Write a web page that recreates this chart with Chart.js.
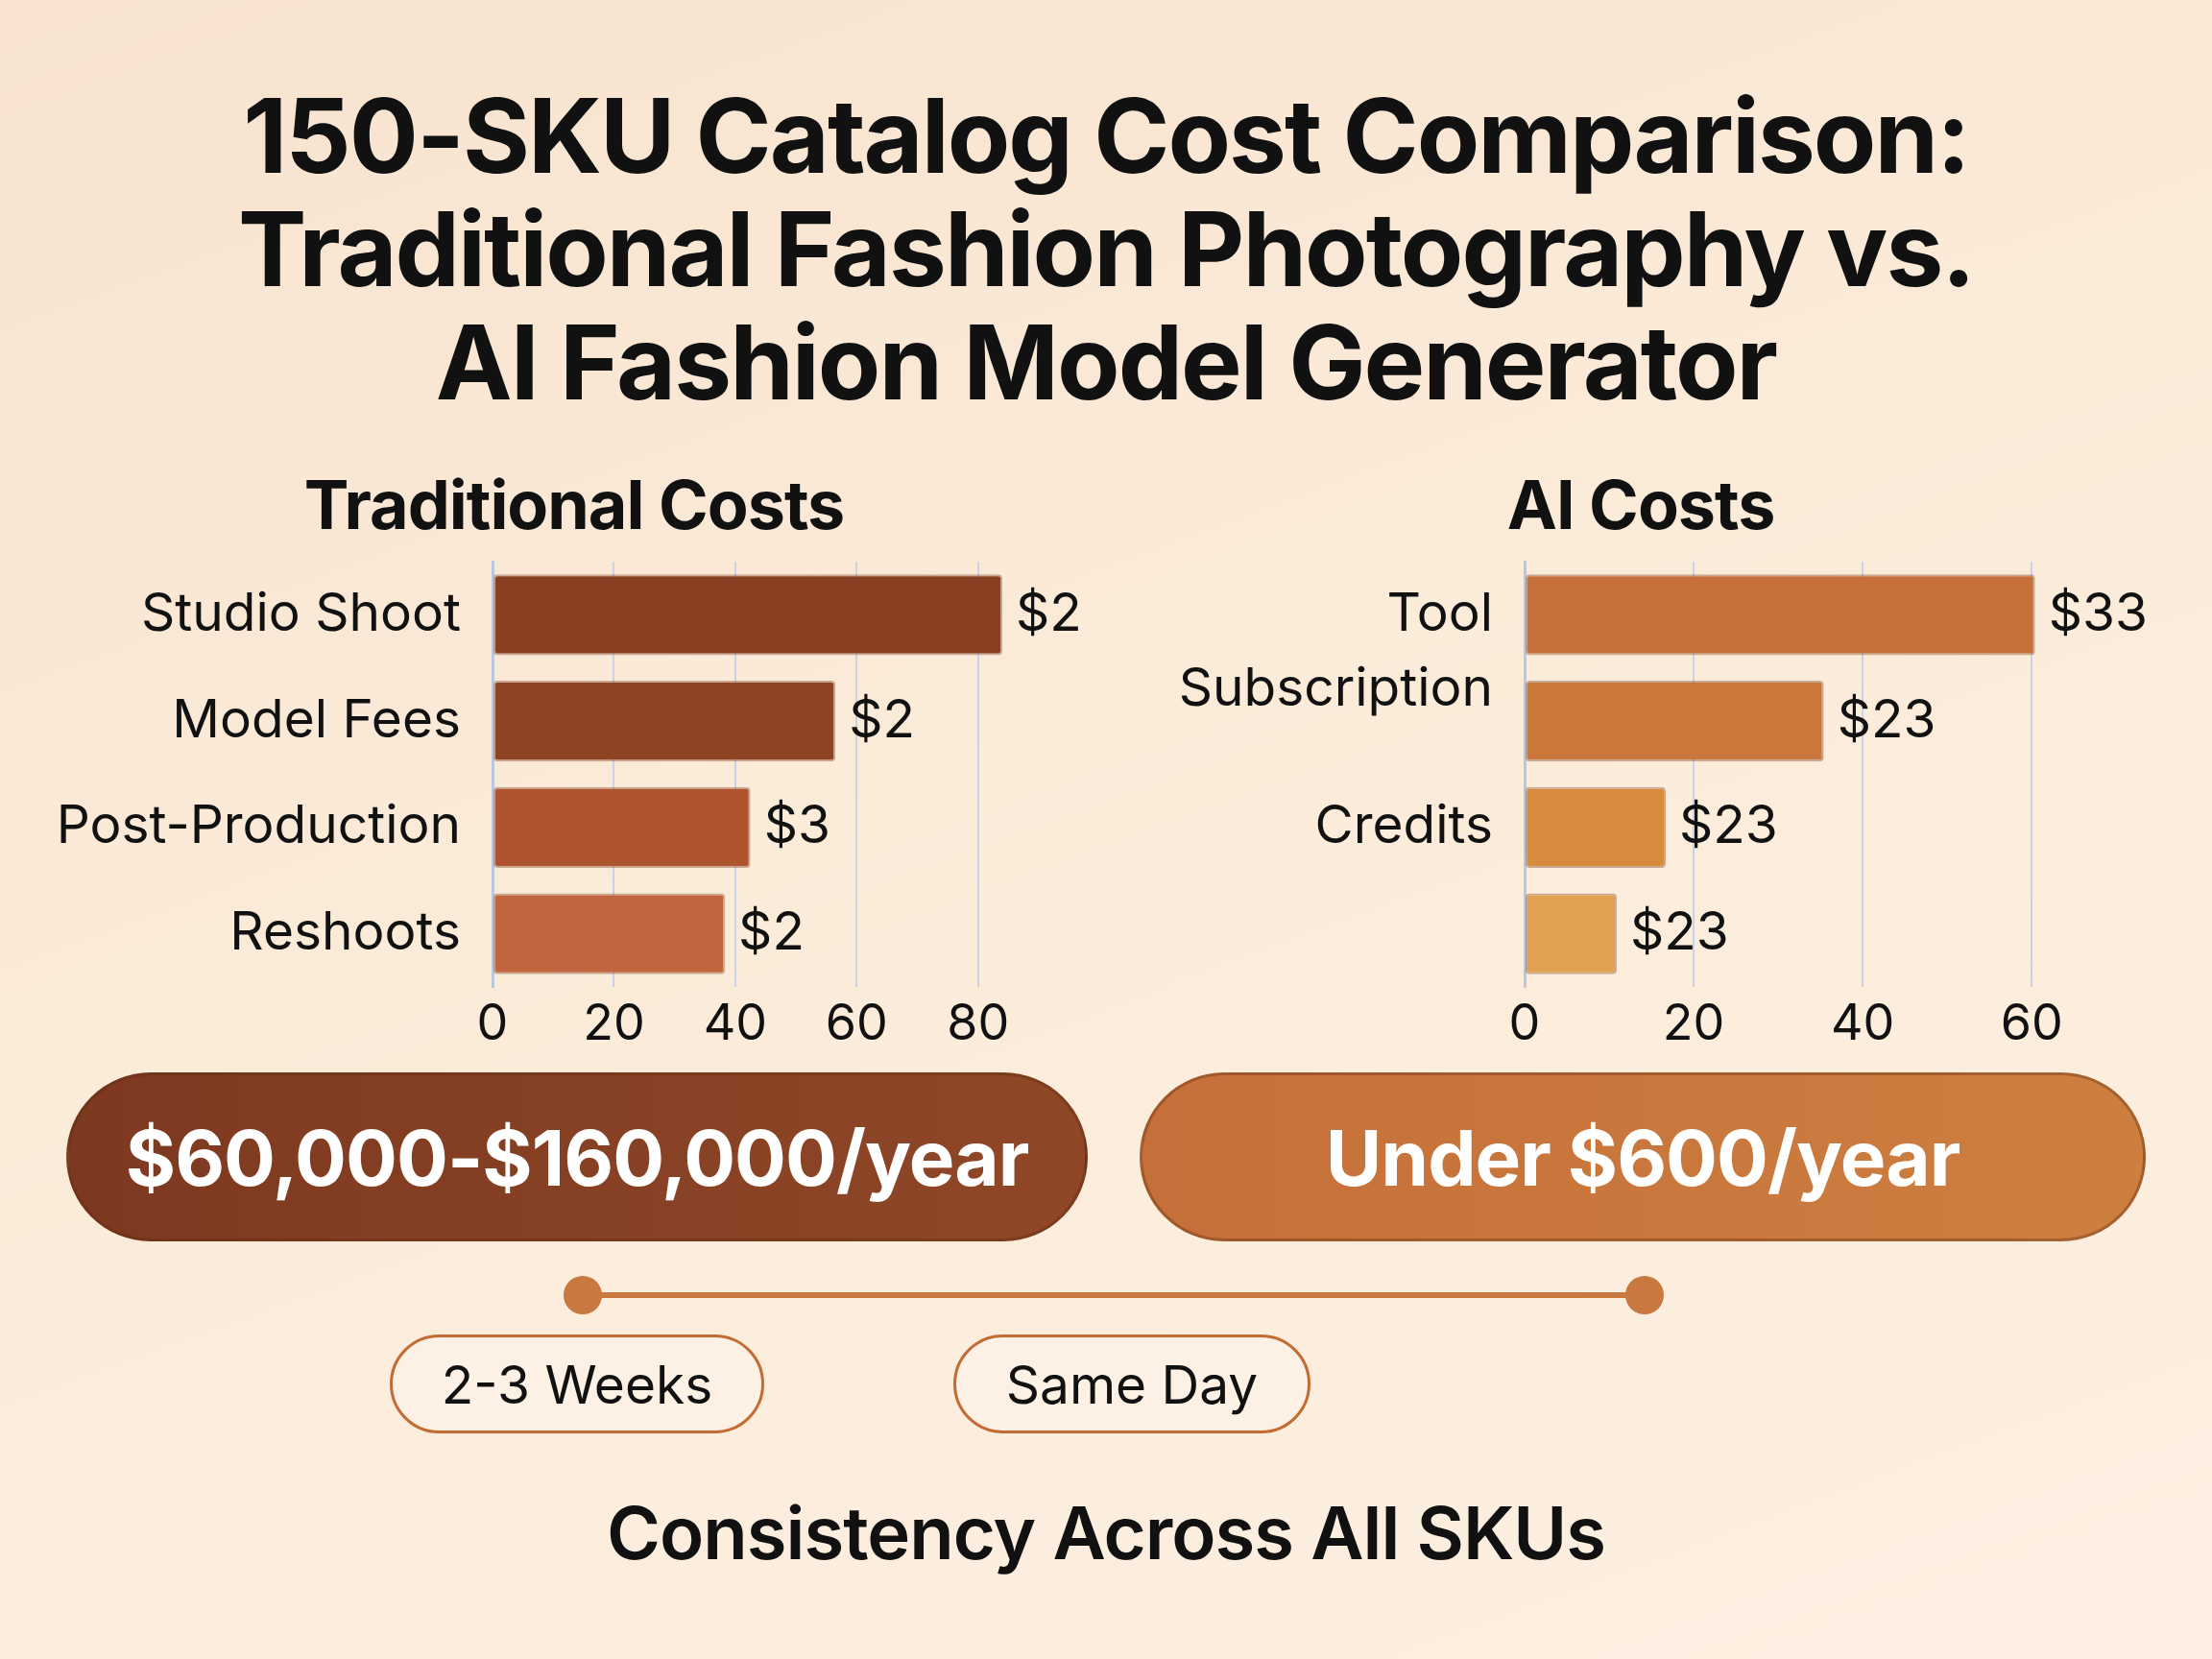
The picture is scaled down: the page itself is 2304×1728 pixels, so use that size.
<!DOCTYPE html>
<html>
<head>
<meta charset="utf-8">
<script src="https://cdn.jsdelivr.net/npm/chart.js@4.4.1/dist/chart.umd.min.js"></script>
<style>
  html, body { margin: 0; padding: 0; }
  body {
    width: 2304px; height: 1728px; position: relative; overflow: hidden;
    background: linear-gradient(160deg, #f7e3cf 0%, #fbebd9 45%, #fdf0e2 100%);
    font-family: Inter, "Noto Sans", sans-serif; color: #111;
  }
  #title {
    position: absolute; left: 0; top: 82px; width: 2304px; text-align: center;
    font-weight: 700; font-size: 107px; line-height: 118px; letter-spacing: -2px;
  }
  .sub {
    position: absolute; top: 486px; width: 800px; text-align: center;
    font-weight: 700; font-size: 70px; line-height: 80px; letter-spacing: -1px;
  }
  canvas { position: absolute; top: 560px; }
  .pill {
    position: absolute; top: 1117px; height: 176px; border-radius: 88px;
    color: #fff; font-weight: 700; font-size: 80px; letter-spacing: -1px;
    display: flex; align-items: center; justify-content: center;
    box-sizing: border-box; border: 3px solid rgba(90,40,15,0.35);
  }
  .tag {
    position: absolute; top: 1390px; height: 103px; border-radius: 52px;
    border: 3px solid #c26b33; background: #fdf1e5; box-sizing: border-box;
    font-size: 55px; display: flex; align-items: center; justify-content: center;
  }
  #line { position: absolute; left: 607px; top: 1346px; width: 1106px; height: 6px; background: #c9783f; }
  .dot { position: absolute; top: 1329px; width: 40px; height: 40px; border-radius: 20px; background: #c9783f; }
  #foot {
    position: absolute; left: 0; top: 1554px; width: 2304px; text-align: center;
    font-weight: 600; font-size: 76px; line-height: 84px; letter-spacing: -1px;
  }
</style>
</head>
<body>
<div id="title">150-SKU Catalog Cost Comparison:<br>Traditional Fashion Photography vs.<br>AI Fashion Model Generator</div>
<div class="sub" style="left:198px">Traditional Costs</div>
<div class="sub" style="left:1309px">AI Costs</div>

<canvas id="tradChart" width="1152" height="560" style="left:0"></canvas>
<canvas id="aiChart" width="1152" height="560" style="left:1152px"></canvas>

<div class="pill" style="left:69px;width:1064px;background:linear-gradient(90deg,#7d3920,#8f4727)">$60,000-$160,000/year</div>
<div class="pill" style="left:1187px;width:1048px;background:linear-gradient(90deg,#c5703a,#cd7f40)">Under $600/year</div>

<div id="line"></div>
<div class="dot" style="left:587px"></div>
<div class="dot" style="left:1693px"></div>

<div class="tag" style="left:406px;width:390px">2-3 Weeks</div>
<div class="tag" style="left:993px;width:372px">Same Day</div>

<div id="foot">Consistency Across All SKUs</div>

<script>
// traditional side
const tradCategories = ['Studio Shoot', 'Model Fees', 'Post-Production', 'Reshoots'];
const tradValues = [84, 56.5, 42.5, 38.3];
const tradLabels = ['$2', '$2', '$3', '$2'];
const tradColors = ['#8a3f22', '#8e4424', '#ae5530', '#c0653d'];
const tradTicks = [0, 20, 40, 60, 80];

// AI side
const aiCategories = ['Tool', 'Subscription', 'Credits', ''];
const aiValues = [60.4, 35.4, 16.7, 10.9];
const aiLabels = ['$33', '$23', '$23', '$23'];
const aiColors = ['#c6703a', '#c9773b', '#d68b3d', '#e1a150'];
const aiTicks = [0, 20, 40, 60];

const FONT = 'Inter, "Noto Sans", sans-serif';

// draws the "$x" text after each bar
const valueLabels = {
  id: 'valueLabels',
  afterDatasetsDraw(chart, args, opts) {
    const ctx = chart.ctx;
    const meta = chart.getDatasetMeta(0);
    ctx.save();
    ctx.font = '55px ' + FONT;
    ctx.fillStyle = '#111';
    ctx.textBaseline = 'middle';
    meta.data.forEach((bar, i) => {
      ctx.fillText(opts.labels[i], bar.x + 14, bar.y);
    });
    ctx.restore();
  }
};

function makeChart(id, cats, vals, labels, colors, ticks, max, padRight, axisW, splitLabel) {
  return new Chart(document.getElementById(id), {
    type: 'bar',
    data: {
      labels: cats,
      datasets: [{
        data: vals,
        backgroundColor: colors,
        borderColor: 'rgba(110,45,15,0.35)',
        borderWidth: 2,
        borderRadius: 4,
        borderSkipped: false,
        barPercentage: 0.76,
        categoryPercentage: 1
      }]
    },
    options: {
      indexAxis: 'y',
      responsive: false,
      animation: false,
      devicePixelRatio: 1,
      layout: { padding: { top: 25, right: padRight, bottom: 0, left: 0 } },
      plugins: {
        legend: { display: false },
        tooltip: { enabled: false },
        valueLabels: { labels: labels }
      },
      scales: {
        x: {
          min: 0, max: max,
          afterBuildTicks: s => { s.ticks = ticks.map(v => ({ value: v })); },
          afterFit: s => { s.height = 92; s.paddingLeft = 0; s.paddingRight = 0; },
          grid: { color: '#c8d3e3', lineWidth: 2, drawTicks: false },
          border: { display: false },
          ticks: { color: '#111', padding: 8, font: { size: 52, family: FONT } }
        },
        y: {
          afterFit: s => { s.width = axisW; s.paddingTop = 0; s.paddingBottom = 0; },
          grid: { display: false, drawTicks: false },
          border: { display: true, color: '#b9c8de', width: 3 },
          ticks: {
            color: '#111', padding: 33, autoSkip: false,
            font: { size: 55, family: FONT, lineHeight: 1.2 },
            callback: function (v, i) {
              const t = this.getLabelForValue(v);
              return (splitLabel && i === 1) ? [t, ''] : t;
            }
          }
        }
      }
    },
    plugins: [valueLabels]
  });
}

makeChart('tradChart', tradCategories, tradValues, tradLabels, tradColors, tradTicks, 84, 108, 513, false);
makeChart('aiChart', aiCategories, aiValues, aiLabels, aiColors, aiTicks, 61, 179, 436, true);
</script>
</body>
</html>
